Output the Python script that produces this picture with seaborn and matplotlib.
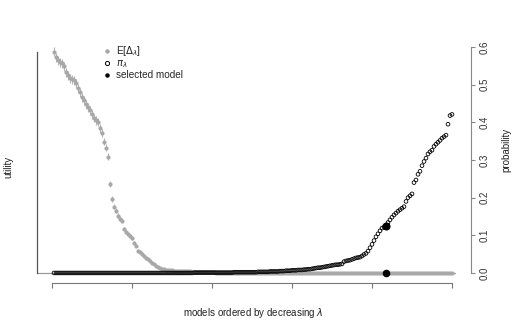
import numpy as np
import pandas as pd
import seaborn as sns
import matplotlib.pyplot as plt
from matplotlib.lines import Line2D

sns.set_style("white")
plt.rcParams['font.family'] = ['Liberation Sans', 'DejaVu Sans']
plt.rcParams['mathtext.fontset'] = 'dejavusans'

## expected utility E[Delta_lambda] per model (arbitrary units)
utility = [
    0.587, 0.573, 0.565, 0.560, 0.557, 0.549, 0.533, 0.525, 0.517, 0.515,
    0.512, 0.504, 0.491, 0.480, 0.467, 0.459, 0.448, 0.440, 0.432, 0.421,
    0.411, 0.405, 0.400, 0.384, 0.371, 0.349, 0.333, 0.309, 0.237, 0.197,
    0.176, 0.165, 0.152, 0.144, 0.139, 0.117, 0.109, 0.104, 0.099, 0.093,
    0.080, 0.072, 0.059, 0.056, 0.051, 0.045, 0.041, 0.037, 0.032, 0.027,
    0.024, 0.019, 0.015, 0.013, 0.011, 0.010, 0.009, 0.008, 0.007, 0.007,
    0.006, 0.006, 0.005, 0.005, 0.005, 0.004, 0.004, 0.004, 0.004, 0.003,
    0.003, 0.003, 0.003, 0.003, 0.002, 0.002, 0.002, 0.002, 0.002, 0.002,
    0.002, 0.001, 0.001, 0.001, 0.001, 0.001, 0.001, 0.001, 0.001, 0.001,
    0.001, 0.001, 0.001, 0.001, 0.001, 0.000, 0.000, 0.000, 0.000, 0.000,
    0.000, 0.000, 0.000, 0.000, 0.000, 0.000, 0.000, 0.000, 0.000, 0.000,
    0.000, 0.000, 0.000, 0.000, 0.000, 0.000, 0.000, 0.000, 0.000, 0.000,
    0.000, 0.000, 0.000, 0.000, 0.000, 0.000, 0.000, 0.000, 0.000, 0.000,
    0.000, 0.000, 0.000, 0.000, 0.000, 0.000, 0.000, 0.000, 0.000, 0.000,
    0.000, 0.000, 0.000, 0.000, 0.000, 0.000, 0.000, 0.000, 0.000, 0.000,
    0.000, 0.000, 0.000, 0.000, 0.000, 0.000, 0.000, 0.000, 0.000, 0.000,
    0.000, 0.000, 0.000, 0.000, 0.000, 0.000, 0.000, 0.000, 0.000, 0.000,
    0.000, 0.000, 0.000, 0.000, 0.000, 0.000, 0.000, 0.000, 0.000, 0.000,
    0.000, 0.000, 0.000, 0.000, 0.000, 0.000, 0.000, 0.000, 0.000, 0.000,
    0.000, 0.000, 0.000, 0.000, 0.000, 0.000, 0.000, 0.000, 0.000, 0.000,
]
## half-width of the error bars, only the first models have visible ones
utility_err = [
    0.012, 0.012, 0.012, 0.012, 0.012, 0.012, 0.012, 0.012, 0.012, 0.012,
    0.012, 0.012, 0.012, 0.012, 0.012, 0.012, 0.012, 0.012, 0.012, 0.012,
    0.011, 0.011, 0.011, 0.011, 0.010, 0.010, 0.010, 0.010, 0.008, 0.008,
    0.007, 0.007, 0.007, 0.006, 0.006, 0.005, 0.005, 0.005, 0.005, 0.005,
    0.004, 0.004, 0.004, 0.004, 0.004, 0.003, 0.003, 0.003, 0.003, 0.003,
]
## posterior probability pi_lambda per model
prob = [
    0.000, 0.000, 0.000, 0.000, 0.000, 0.000, 0.000, 0.000, 0.000, 0.000,
    0.000, 0.000, 0.000, 0.000, 0.000, 0.000, 0.000, 0.000, 0.000, 0.000,
    0.000, 0.000, 0.000, 0.000, 0.000, 0.000, 0.000, 0.000, 0.000, 0.000,
    0.000, 0.000, 0.000, 0.000, 0.000, 0.000, 0.000, 0.000, 0.000, 0.000,
    0.000, 0.000, 0.000, 0.000, 0.000, 0.000, 0.000, 0.000, 0.000, 0.000,
    0.000, 0.000, 0.000, 0.000, 0.000, 0.000, 0.000, 0.000, 0.000, 0.000,
    0.000, 0.000, 0.000, 0.000, 0.000, 0.000, 0.000, 0.000, 0.000, 0.000,
    0.001, 0.001, 0.001, 0.001, 0.001, 0.001, 0.001, 0.001, 0.001, 0.001,
    0.001, 0.001, 0.001, 0.001, 0.001, 0.001, 0.001, 0.001, 0.001, 0.001,
    0.002, 0.002, 0.002, 0.002, 0.002, 0.002, 0.002, 0.002, 0.002, 0.002,
    0.002, 0.002, 0.003, 0.003, 0.003, 0.003, 0.003, 0.003, 0.004, 0.004,
    0.004, 0.004, 0.004, 0.005, 0.005, 0.005, 0.006, 0.006, 0.006, 0.007,
    0.007, 0.007, 0.008, 0.008, 0.008, 0.009, 0.009, 0.010, 0.010, 0.011,
    0.012, 0.013, 0.014, 0.014, 0.015, 0.016, 0.017, 0.018, 0.019, 0.020,
    0.021, 0.022, 0.022, 0.023, 0.024, 0.030, 0.032, 0.033, 0.034, 0.036,
    0.038, 0.040, 0.041, 0.042, 0.045, 0.049, 0.052, 0.058, 0.067, 0.076,
    0.086, 0.096, 0.104, 0.112, 0.119, 0.122, 0.125, 0.134, 0.141, 0.148,
    0.154, 0.159, 0.164, 0.168, 0.172, 0.176, 0.190, 0.200, 0.205, 0.210,
    0.240, 0.247, 0.262, 0.270, 0.285, 0.296, 0.305, 0.316, 0.322, 0.326,
    0.336, 0.342, 0.347, 0.352, 0.358, 0.362, 0.366, 0.395, 0.418, 0.421,
]
selected = 167  ## position of the selected model
x_ticks = [0, 40, 80, 120, 160, 200]
prob_ticks = [0.0, 0.1, 0.2, 0.3, 0.4, 0.5, 0.6]

df = pd.DataFrame({"model": np.arange(1, len(prob) + 1), "utility": utility, "prob": prob})
sel = df[df["model"] == selected]

fig = plt.figure(figsize=(5.17, 3.29), dpi=100)
ax = fig.add_axes([37 / 517, 47 / 329, 434 / 517, 244 / 329])
ax2 = ax.twinx()

xlim = (-7.5, 209.5)
ylim = (-0.024, 0.624)
axis_col = "#555555"

## left: utility with error bars
ax.errorbar(df["model"][:len(utility_err)], df["utility"][:len(utility_err)], yerr=utility_err,
            fmt="none", ecolor="#b5b5b5", elinewidth=0.8, zorder=1)
ax.axhline(0, xmin=0, xmax=(len(prob) + 1.5 - xlim[0]) / (xlim[1] - xlim[0]), color="#999999", lw=0.9, zorder=1)
sns.scatterplot(data=df, x="model", y="utility", ax=ax, color="#a8a8a8", s=9, linewidth=0, zorder=2)
sns.scatterplot(data=sel, x="model", y="utility", ax=ax, color="black", s=30, linewidth=0, zorder=5)

## right: probability
sns.scatterplot(data=df, x="model", y="prob", ax=ax2, facecolor="none", edgecolor="black",
                s=7, linewidth=0.6, zorder=3)
sns.scatterplot(data=sel, x="model", y="prob", ax=ax2, color="black", s=34, linewidth=0, zorder=5)

for a in (ax, ax2):
    a.set_xlim(*xlim)
    a.set_ylim(*ylim)
    for s in a.spines.values():
        s.set_visible(False)

ax.spines["left"].set_visible(True)
ax.spines["left"].set_bounds(0, max(utility))
ax.spines["left"].set_color(axis_col)
ax.spines["left"].set_linewidth(0.9)
ax.set_yticks([])
ax.spines["bottom"].set_visible(True)
ax.spines["bottom"].set_bounds(x_ticks[0], x_ticks[-1])
ax.spines["bottom"].set_position(("outward", 1))
ax.spines["bottom"].set_color("#777777")
ax.set_xticks(x_ticks)
ax.set_xticklabels([])
ax.tick_params(axis="x", direction="out", length=3.5, width=0.8, color="#777777", bottom=True)

ax2.spines["right"].set_visible(True)
ax2.spines["right"].set_bounds(0, 0.6)
ax2.spines["right"].set_color("#888888")
ax2.set_yticks(prob_ticks)
ax2.set_yticklabels([f"{t:.1f}" for t in prob_ticks], rotation=90, va="center", fontsize=7, color="#333333")
ax2.tick_params(axis="y", direction="out", length=3, width=0.8, color="#888888", pad=3, right=True)

ax.set_xlabel(r"models ordered by decreasing $\lambda$", fontsize=7, color="#222222")
ax.xaxis.set_label_coords(0.498, -0.1)
ax.set_ylabel("utility", fontsize=7, color="#222222")
ax.yaxis.set_label_coords(-0.055, 0.47)
ax2.set_ylabel("probability", fontsize=7, color="#222222")
ax2.yaxis.set_label_coords(1.069, 0.54)

handles = [
    Line2D([], [], ls="none", marker="o", ms=3.2, mfc="#a8a8a8", mec="none"),
    Line2D([], [], ls="none", marker="o", ms=3.0, mfc="none", mec="black", mew=0.7),
    Line2D([], [], ls="none", marker="o", ms=3.2, mfc="black", mec="none"),
]
labels = [r"E[$\Delta_\lambda$]", r"$\pi_\lambda$", "selected model"]
ax.legend(handles, labels, loc="upper left", bbox_to_anchor=(0.155, 0.975), frameon=False,
          fontsize=7.2, handlelength=0.6, handletextpad=0.6, labelspacing=0.02,
          borderaxespad=0, borderpad=0)

fig.savefig("out.png", dpi=100)
